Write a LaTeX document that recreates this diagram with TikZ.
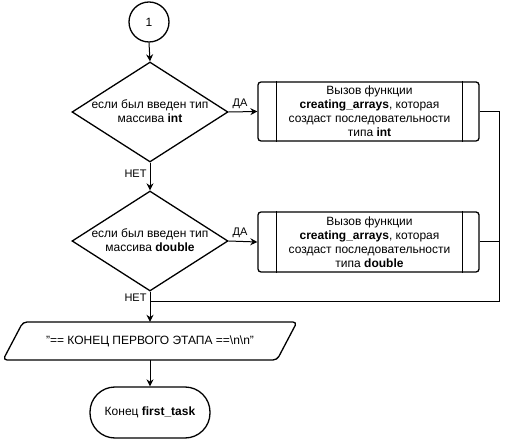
\documentclass[tikz,border=0pt]{standalone}
\usepackage{fontspec}
\setmainfont{Liberation Sans}
\usetikzlibrary{shapes.geometric,arrows.meta,calc}
\begin{document}
\begin{tikzpicture}[x=1pt,y=-1pt,
  font=\fontsize{12}{14}\selectfont,
  shape line/.style={draw=black,line width=1.3pt},
  arr/.style={line width=1pt,-{Stealth[length=7pt,width=7pt]}},
  conn/.style={line width=1pt},
  lbl/.style={font=\fontsize{11}{13}\selectfont,inner sep=1pt},
  txt/.style={align=center,inner sep=0pt}]
\useasboundingbox (0,0) rectangle (508,443);
% start connector
\node[circle,shape line,minimum size=40pt,inner sep=0pt] (c1) at (149,22) {1};
% decisions
\node[diamond,shape line,minimum width=156pt,minimum height=100pt,inner sep=0pt] (d1) at (150,112) {};
\node[txt] (d1t) at (150,111) {если был введен тип\\массива \textbf{int}};
\node[diamond,shape line,minimum width=156pt,minimum height=100pt,inner sep=0pt] (d2) at (150,241) {};
\node[txt] (d2t) at (150,240) {если был введен тип\\массива \textbf{double}};
% predefined processes
\node[rectangle,shape line,rounded corners=3pt,minimum width=221pt,minimum height=59pt,inner sep=0pt] (b1) at (368.5,111.5) {};
\draw[line width=1.3pt] ([xshift=19pt]b1.north west) -- ([xshift=19pt]b1.south west);
\draw[line width=1.3pt] ([xshift=-17pt]b1.north east) -- ([xshift=-17pt]b1.south east);
\node[txt] (b1t) at (369.5,111.5) {Вызов функции\\\textbf{creating\_arrays}, которая\\создаст последовательности\\типа \textbf{int}};
\node[rectangle,shape line,rounded corners=3pt,minimum width=221pt,minimum height=60pt,inner sep=0pt] (b2) at (368.5,242) {};
\draw[line width=1.3pt] ([xshift=19pt]b2.north west) -- ([xshift=19pt]b2.south west);
\draw[line width=1.3pt] ([xshift=-17pt]b2.north east) -- ([xshift=-17pt]b2.south east);
\node[txt] (b2t) at (369.5,242) {Вызов функции\\\textbf{creating\_arrays}, которая\\создаст последовательности\\типа \textbf{double}};
% output parallelogram
\draw[shape line,rounded corners=4pt] (23,322) -- (297,322) -- (277,360) -- (3,360) -- cycle;
\node[rectangle,minimum width=250pt,minimum height=38pt,inner sep=0pt] (p) at (150,341) {"== КОНЕЦ ПЕРВОГО ЭТАПА ==\textbackslash n\textbackslash n"};
% terminal
\node[rectangle,shape line,rounded corners=25pt,minimum width=120pt,minimum height=51pt,inner sep=0pt] (t) at (150,412.5) {Конец \textbf{first\_task}};
% junction coordinates
\coordinate (j) at (499,301);
\coordinate (m) at (150,301);
% connectors
\draw[arr] (c1.south) -- (d1.north);
\draw[arr] (d1.east) -- node[lbl,above,pos=0.4,yshift=2pt]{ДА} (b1.west);
\draw[arr] (d1.south) -- node[lbl,left,pos=0.4,xshift=-2pt]{НЕТ} (d2.north);
\draw[arr] (d2.east) -- node[lbl,above,pos=0.4,yshift=2pt]{ДА} (b2.west);
\draw[arr] (d2.south) -- node[lbl,left,pos=0.19,xshift=-2pt]{НЕТ} (p.north);
\draw[conn] (b1.east) -| (j) -- (m);
\draw[conn] (b2.east) -- (b2.east -| j);
\draw[arr] (p.south) -- (t.north);
\end{tikzpicture}
\end{document}
